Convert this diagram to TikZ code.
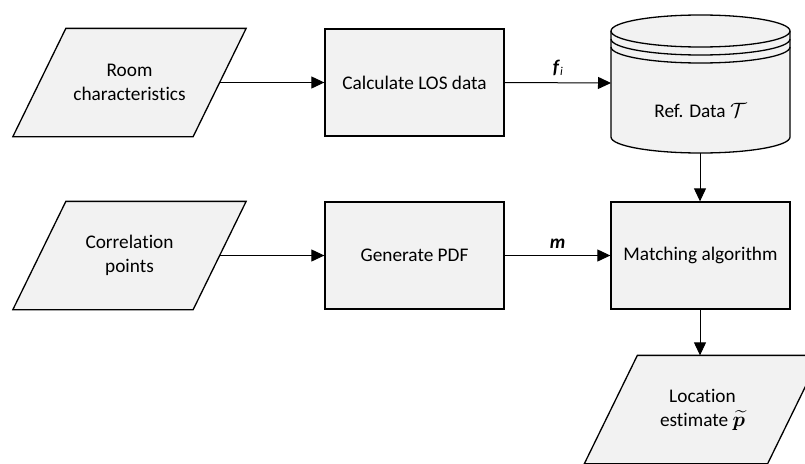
\documentclass[tikz,border=0pt]{standalone}
\usepackage{amsmath}
\usepackage{bm}
\usepackage{fontspec}
\setmainfont[Ligatures={NoCommon}]{Carlito}
\usetikzlibrary{arrows.meta,calc,backgrounds}
\definecolor{boxfill}{HTML}{F2F2F2}
\tikzset{
  box/.style={draw, fill=boxfill, line width=1.3pt, minimum width=179pt, minimum height=107pt,
    inner sep=0pt, font=\fontsize{19.3}{24}\selectfont, align=center},
  ghost/.style={box, draw=none, fill=none},
  shapeline/.style={draw, fill=boxfill, line width=1.3pt, line join=miter},
  arr/.style={-{Triangle[length=13pt,width=12pt]}, line width=1pt},
  lbl/.style={font=\fontsize{19.3}{24}\selectfont, inner sep=0pt},
  slant/.style={shapeline}
}
\newcommand{\parag}[1]{%
  \path[slant] ($(#1.north west)+(26.5pt,0)$) -- ($(#1.north east)+(26.5pt,0)$)
    -- ($(#1.south east)+(-26.5pt,0)$) -- ($(#1.south west)+(-26.5pt,0)$) -- cycle;}
\begin{document}
\begin{tikzpicture}[x=1pt,y=-1pt]
\useasboundingbox (0,0) rectangle (805,463);
\clip (0,0) rectangle (805,463);

% row 1
\node[ghost] (room) at (129.5,82.5) {Room\\characteristics};
\node[box] (calc) at (414.5,82.5) {Calculate LOS data};
% cylinder
\path[shapeline] (611,31) -- (611,137) arc[start angle=180,end angle=360,x radius=89.5pt,y radius=16pt]
  -- (790,31) arc[start angle=0,end angle=180,x radius=89.5pt,y radius=16pt] -- cycle;
\draw[line width=1.3pt] (611,31) arc[start angle=180,end angle=360,x radius=89.5pt,y radius=16pt];
\draw[line width=1.3pt] (611,39) arc[start angle=180,end angle=360,x radius=89.5pt,y radius=16pt];
\draw[line width=1.3pt] (611,47) arc[start angle=180,end angle=360,x radius=89.5pt,y radius=16pt];
\node[lbl] (ref) at (700.5,110) {Ref. Data $\mathcal{T}$};
\coordinate (refw) at (611,83);
\coordinate (refs) at (700,153);

% row 2
\node[ghost] (corr) at (129.5,255.5) {Correlation\\points};
\node[box] (gen) at (414.5,255.5) {Generate PDF};
\node[box] (match) at (700.5,255.5) {Matching algorithm};

% row 3
\node[ghost, minimum width=182pt] (loc) at (702.5,409.5) {Location\\estimate\ $\widetilde{\bm{p}}$};

\begin{scope}[on background layer]
\parag{room}
\parag{corr}
\parag{loc}
\end{scope}

% connectors
\draw[arr] (room.east) -- (calc.west);
\draw[arr] (calc.east) -- node[lbl, above=7pt] (fi) {\textbf{\textit{f}}\textit{\fontsize{12}{12}\selectfont\raisebox{-2pt}{i}}} (refw);
\draw[arr] (refs) -- (match.north -| refs);
\draw[arr] (corr.east) -- (gen.west);
\draw[arr] (gen.east) -- node[lbl, above=7pt] (mm) {\textbf{\textit{m}}} (match.west);
\draw[arr] (match.south -| refs) -- (loc.north -| refs);
\end{tikzpicture}
\end{document}
